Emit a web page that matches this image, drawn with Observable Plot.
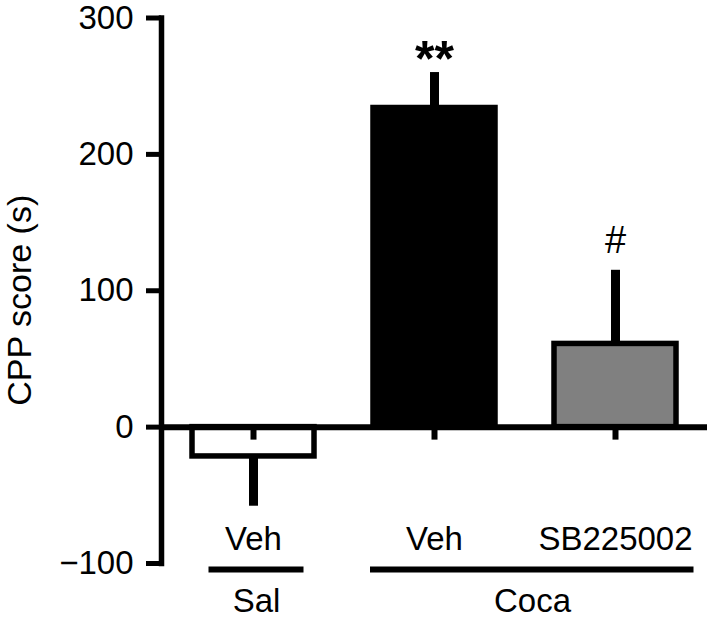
<!DOCTYPE html>
<html><head><meta charset="utf-8">
<script src="https://cdn.jsdelivr.net/npm/d3@7"></script>
<script src="https://cdn.jsdelivr.net/npm/@observablehq/plot@0.6"></script>
<style>body{margin:0;background:#fff}</style>
</head><body><div id="chart"></div>
<script>
// ---- data ----
const groups = ["Sal", "Coca", "Coca"];
const treatments = ["Veh", "Veh", "SB225002"];
const means = [-21.5, 234, 61];
const sems = [36.5, 26, 54];
const signif = ["", "**", "#"];
const yTicks = [-100, 0, 100, 200, 300];
const yLabel = "CPP score (s)";

// ---- styles ----
const barFills = ["#ffffff", "#000000", "#808080"];
const fontFamily = "'Liberation Sans', Arial, Helvetica, sans-serif";

const keys = groups.map((g, i) => g + " " + treatments[i]);
const data = keys.map((k, i) => ({
  key: k, group: groups[i], treatment: treatments[i],
  mean: means[i], sem: sems[i], sig: signif[i],
  tip: means[i] >= 0 ? means[i] + sems[i] : means[i] - sems[i]
}));
const groupSpans = d3.groups(data, d => d.group).map(([g, rows]) => ({
  group: g, first: rows[0].key, last: rows[rows.length - 1].key
}));
const yMin = d3.min(yTicks), yMax = d3.max(yTicks);

const plot = Plot.plot({
  width: 709, height: 624,
  marginTop: 17.5, marginBottom: 61, marginLeft: 161, marginRight: 3,
  style: {fontFamily, fontSize: "33px", color: "#000", background: "#fff", overflow: "visible"},
  x: {domain: keys, paddingInner: 0.328, paddingOuter: 0.1625, axis: null},
  y: {domain: [yMin, yMax], axis: null},
  color: {domain: keys, range: barFills},
  marks: [
    // error bars
    Plot.ruleX(data, {x: "key", y1: "mean", y2: "tip", stroke: "#000", strokeWidth: 9}),
    // bars
    Plot.barY(data, {x: "key", y: "mean", fill: "key", stroke: "#000", strokeWidth: 5.5}),
    // zero line
    Plot.ruleY([0], {stroke: "#000", strokeWidth: 6, insetRight: -1}),
    // x ticks under zero line
    Plot.ruleX(data, {x: "key", y1: 0, y2: 0, insetBottom: -13, stroke: "#000", strokeWidth: 6}),
    // y axis
    Plot.axisY({ticks: yTicks, tickSize: 15, tickPadding: 13, strokeWidth: 5, fontSize: 33, label: null}),
    Plot.frame({anchor: "left", stroke: "#000", strokeWidth: 5.5}),
    Plot.text([yLabel], {frameAnchor: "left", textAnchor: "middle", lineAnchor: "middle", rotate: -90, dx: -141, dy: 9.5, fontSize: 34}),
    // significance marks
    Plot.text(data.filter(d => d.sig === "**"), {x: "key", y: "tip", text: "sig", dy: -12.5, fontSize: 50, fontWeight: "bold"}),
    Plot.text(data.filter(d => d.sig === "#"), {x: "key", y: "tip", text: "sig", dy: -29, fontSize: 38}),
    // treatment labels
    Plot.text(data, {x: "key", text: "treatment", frameAnchor: "bottom", lineAnchor: "middle", dy: -24, fontSize: 33}),
    // group lines
    Plot.ruleY(groupSpans.filter(d => d.group === "Sal"), {x1: "first", x2: "last", y: yMin, dy: 6, insetLeft: 16.5, insetRight: 10.5, stroke: "#000", strokeWidth: 6}),
    Plot.ruleY(groupSpans.filter(d => d.group === "Coca"), {x1: "first", x2: "last", y: yMin, dy: 6, insetLeft: -3, insetRight: -17.5, stroke: "#000", strokeWidth: 6}),
    // group labels
    Plot.text(groupSpans.filter(d => d.group === "Sal"), {x: "first", text: "group", frameAnchor: "bottom", lineAnchor: "middle", dy: 38, dx: 3, fontSize: 33}),
    Plot.text(groupSpans.filter(d => d.group === "Coca"), {x: "first", text: "group", frameAnchor: "bottom", lineAnchor: "middle", dy: 38, dx: 98, fontSize: 33})
  ]
});
document.getElementById("chart").appendChild(plot);
</script>
</body></html>
